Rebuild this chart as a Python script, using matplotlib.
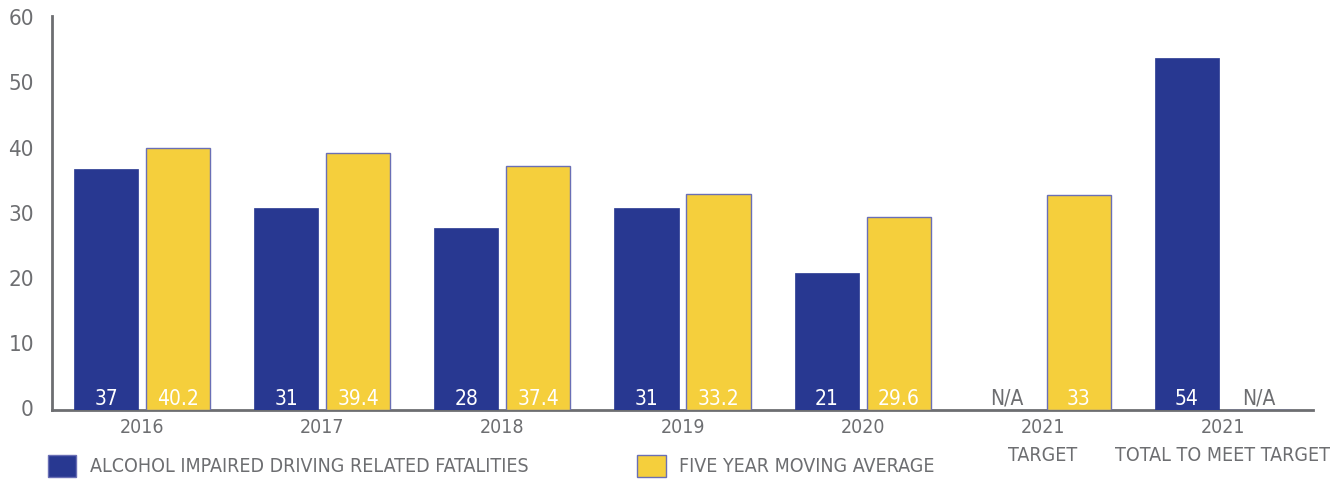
import numpy as np
import matplotlib.pyplot as plt
from matplotlib.patches import Patch

# Data
categories = ['2016', '2017', '2018', '2019', '2020', '2021\nTARGET', '2021\nTOTAL TO MEET TARGET']
fatalities = [37, 31, 28, 31, 21, None, 54]
moving_avg = [40.2, 39.4, 37.4, 33.2, 29.6, 33, None]

navy = '#283891'
yellow = '#f5cf3c'
grey = '#6d6e71'
font = ['Liberation Sans Narrow', 'DejaVu Sans']

plt.rcParams['font.family'] = font
plt.rcParams['font.stretch'] = 'condensed'

fig = plt.figure(figsize=(13.38, 4.83), dpi=100)
ax = fig.add_axes([52 / 1338, 1 - 410 / 483, 1261 / 1338, 394 / 483])

x = np.arange(len(categories))
w = 0.356
off = 0.2

h1 = [v if v is not None else np.nan for v in fatalities]
h2 = [v if v is not None else 0 for v in moving_avg]
ax.bar(x - off, h1, w, color=navy, edgecolor=navy, linewidth=0.5, zorder=2)
ax.bar(x + off, h2, w, color=yellow, edgecolor='#6a6fb5', linewidth=1.0, zorder=2)

for i in range(len(categories)):
    for v, xx in ((fatalities[i], x[i] - off), (moving_avg[i], x[i] + off)):
        if v is None:
            ax.text(xx, 0.8, 'N/A', ha='center', va='baseline', color=grey, fontsize=15, zorder=3)
        else:
            ax.text(xx, 0.8, f'{v:g}', ha='center', va='baseline', color='white', fontsize=15, zorder=3)

ax.set_xlim(-0.5, 6.5)
ax.set_ylim(0, 60.5)
ax.set_yticks(range(0, 61, 10))
ax.set_xticks(x)
ax.set_xticklabels(categories, linespacing=1.55)
ax.tick_params(axis='both', length=0, colors=grey)
ax.tick_params(axis='y', pad=13, labelsize=16)
ax.tick_params(axis='x', pad=6, labelsize=14)
for lab in ax.get_yticklabels():
    lab.set_va('center')

for s in ('top', 'right'):
    ax.spines[s].set_visible(False)
for s in ('left', 'bottom'):
    ax.spines[s].set_color(grey)
    ax.spines[s].set_linewidth(2)
    ax.spines[s].set_zorder(1)

handles = [Patch(facecolor=navy, edgecolor='#6a6fb5', label='ALCOHOL IMPAIRED DRIVING RELATED FATALITIES'),
           Patch(facecolor=yellow, edgecolor='#6a6fb5', label='FIVE YEAR MOVING AVERAGE')]
leg = fig.legend(handles=handles, loc='center left', bbox_to_anchor=(48 / 1338, 17 / 483), ncol=2,
                 frameon=False, fontsize=14, handlelength=1.45, handleheight=1.4,
                 borderpad=0, borderaxespad=0, columnspacing=5.6, handletextpad=0.7,
                 labelcolor=grey)

fig.savefig('out.png', dpi=100)
